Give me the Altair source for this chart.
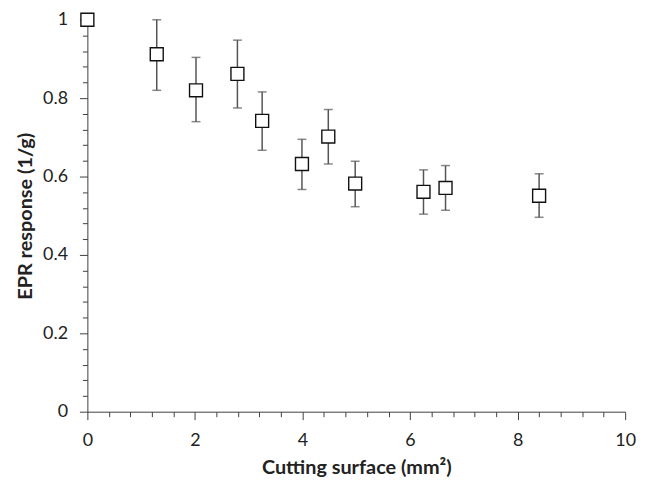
import altair as alt
import pandas as pd

surface = [0.0, 1.29, 2.02, 2.79, 3.25, 3.99, 4.48, 4.98, 6.25, 6.66, 8.40]
response = [1.0, 0.912, 0.82, 0.862, 0.742, 0.632, 0.702, 0.582, 0.561, 0.571, 0.551]
err_low = [1.0, 0.82, 0.74, 0.775, 0.667, 0.567, 0.632, 0.523, 0.504, 0.514, 0.496]
err_high = [1.0, 1.0, 0.904, 0.948, 0.816, 0.695, 0.771, 0.639, 0.617, 0.628, 0.607]

x_ticks = [round(i * 0.4, 2) for i in range(26)]
y_ticks = [round(i * 0.04, 2) for i in range(26)]

df = pd.DataFrame({"x": surface, "y": response, "lo": err_low, "hi": err_high})
df_err = df[df["lo"] < df["hi"]]

FONT = "Lato"
AX = "#404040"
TXT = "#222222"

xscale = alt.Scale(domain=[0, 10], nice=False, zero=False)
yscale = alt.Scale(domain=[0, 1], nice=False, zero=False)

xmajor = "round(datum.value*10) % 20 == 0"
ymajor = "round(datum.value*100) % 20 == 0"

xaxis = alt.Axis(
    title="Cutting surface (mm²)", values=x_ticks,
    labelExpr=f"({xmajor}) ? format(datum.value, 'd') : ''",
    tickSize={"condition": {"test": xmajor, "value": 8}, "value": 5},
    labelOverlap=False, grid=False, domainColor=AX, tickColor=AX, labelColor=TXT,
    labelFont=FONT, labelFontSize=18, labelPadding=12,
    titleFont=FONT, titleFontSize=20, titleFontWeight="bold", titleColor=TXT,
    titlePadding=8, labelFlush=False,
)
yaxis = alt.Axis(
    title="EPR response (1/g)", values=y_ticks,
    labelExpr=f"({ymajor}) ? (datum.value == 0 ? '0' : datum.value == 1 ? '1' : format(datum.value, '.1f')) : ''",
    tickSize={"condition": {"test": ymajor, "value": 8}, "value": 5},
    labelOverlap=False, grid=False, domainColor=AX, tickColor=AX, labelColor=TXT,
    labelFont=FONT, labelFontSize=18, labelPadding=12,
    titleFont=FONT, titleFontSize=20, titleFontWeight="bold", titleColor=TXT,
    titlePadding=7, labelFlush=False,
)

X = alt.X("x:Q", scale=xscale, axis=xaxis)

def Y(field):
    return alt.Y(f"{field}:Q", scale=yscale, axis=yaxis)

ERR = "#555555"
rules = alt.Chart(df_err).mark_rule(color=ERR, strokeWidth=1.5).encode(
    x=X, y=Y("lo"), y2="hi:Q",
)
caps_hi = alt.Chart(df_err).mark_tick(color=ERR, orient="horizontal", size=9, thickness=1.5).encode(
    x=X, y=Y("hi")
)
caps_lo = alt.Chart(df_err).mark_tick(color=ERR, orient="horizontal", size=9, thickness=1.5).encode(
    x=X, y=Y("lo")
)
points = alt.Chart(df).mark_point(shape="square", filled=True, fill="white", stroke="#111111",
                                  strokeWidth=1.4, size=170, opacity=1).encode(
    x=X, y=Y("y"),
)

chart = alt.layer(rules, caps_hi, caps_lo, points).properties(
    width=542, height=395,
    autosize=alt.AutoSizeParams(type="none"),
    padding={"left": 80, "top": 10, "right": 20, "bottom": 70},
).configure_view(stroke=None)

chart.save("out.html", embed_options={"renderer": "svg", "actions": False})
